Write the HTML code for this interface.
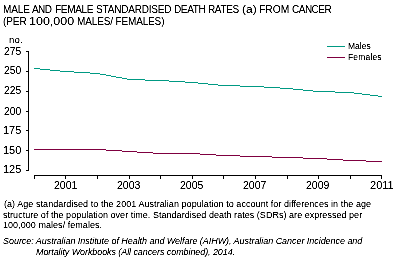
<!DOCTYPE html>
<html><head><meta charset="utf-8">
<style>
html,body{margin:0;padding:0;background:#fff;width:397px;height:265px;overflow:hidden;position:relative}
.t{position:absolute;font-family:"Liberation Sans",sans-serif;white-space:nowrap;color:#000;line-height:1;will-change:transform;-webkit-text-stroke:0.1px #000}
svg{position:absolute;left:0;top:0}
#tx{position:absolute;left:0;top:0;width:397px;height:265px;background:#fff;filter:contrast(2.0)}
</style></head><body><div id="tx">
<div class="t" style="left:3.0px;top:5.0px;font-size:10.0px;letter-spacing:-0.100px">MALE</div>
<div class="t" style="left:32.0px;top:5.0px;font-size:10.0px;letter-spacing:-0.600px">AND</div>
<div class="t" style="left:55.0px;top:5.0px;font-size:10.0px;letter-spacing:-0.300px">FEMALE</div>
<div class="t" style="left:96.0px;top:5.0px;font-size:10.0px;letter-spacing:-0.191px">STANDARDISED</div>
<div class="t" style="left:174.0px;top:5.0px;font-size:10.0px;letter-spacing:-0.350px">DEATH</div>
<div class="t" style="left:208.0px;top:5.0px;font-size:10.0px;letter-spacing:-0.350px">RATES</div>
<div class="t" style="left:242.0px;top:5.0px;font-size:10.0px;transform:scaleX(1.2000);transform-origin:0 0">(a)</div>
<div class="t" style="left:259.0px;top:5.0px;font-size:10.0px;transform:scaleX(1.0267);transform-origin:0 0">FROM</div>
<div class="t" style="left:292.0px;top:5.0px;font-size:10.0px;letter-spacing:-0.500px">CANCER</div>
<div class="t" style="left:3.0px;top:17.0px;font-size:10.0px;letter-spacing:-0.074px">(PER</div>
<div class="t" style="left:29.0px;top:17.0px;font-size:10.0px;transform:scaleX(1.2493);transform-origin:0 0">100,000</div>
<div class="t" style="left:77.0px;top:17.0px;font-size:10.0px;letter-spacing:-0.143px">MALES/ FEMALES)</div>
<div class="t" style="left:9.0px;top:34.5px;font-size:9.5px;letter-spacing:0.300px">no.</div>
<div class="t" style="left:4.0px;top:47.0px;font-size:10.0px;transform:scaleX(1.0353);transform-origin:0 0">275</div>
<div class="t" style="left:4.0px;top:66.0px;font-size:10.0px;transform:scaleX(1.0353);transform-origin:0 0">250</div>
<div class="t" style="left:4.0px;top:86.0px;font-size:10.0px;transform:scaleX(1.0353);transform-origin:0 0">225</div>
<div class="t" style="left:4.0px;top:107.0px;font-size:10.0px;transform:scaleX(1.0353);transform-origin:0 0">200</div>
<div class="t" style="left:3.0px;top:126.0px;font-size:10.0px;transform:scaleX(1.1000);transform-origin:0 0">175</div>
<div class="t" style="left:3.0px;top:146.0px;font-size:10.0px;transform:scaleX(1.1000);transform-origin:0 0">150</div>
<div class="t" style="left:3.0px;top:165.0px;font-size:10.0px;transform:scaleX(1.1000);transform-origin:0 0">125</div>
<div class="t" style="left:54.0px;top:181.0px;font-size:10.0px;transform:scaleX(1.0522);transform-origin:0 0">2001</div>
<div class="t" style="left:117.0px;top:181.0px;font-size:10.0px;transform:scaleX(1.0522);transform-origin:0 0">2003</div>
<div class="t" style="left:180.0px;top:181.0px;font-size:10.0px;transform:scaleX(1.0522);transform-origin:0 0">2005</div>
<div class="t" style="left:243.0px;top:181.0px;font-size:10.0px;transform:scaleX(1.0522);transform-origin:0 0">2007</div>
<div class="t" style="left:306.0px;top:181.0px;font-size:10.0px;transform:scaleX(1.0522);transform-origin:0 0">2009</div>
<div class="t" style="left:370.0px;top:181.0px;font-size:10.0px;transform:scaleX(1.1023);transform-origin:0 0">2011</div>
<div class="t" style="left:348.0px;top:42.0px;font-size:8.5px">Males</div>
<div class="t" style="left:348.0px;top:53.0px;font-size:8.5px;letter-spacing:0.167px">Females</div>
<div class="t" style="left:4.0px;top:200.0px;font-size:9.0px;letter-spacing:0.055px">(a) Age standardised to the 2001 Australian population to account for differences in the age</div>
<div class="t" style="left:3.0px;top:211.0px;font-size:9.0px;letter-spacing:0.034px">structure of the population over time. Standardised death rates (SDRs) are expressed per</div>
<div class="t" style="left:3.0px;top:221.0px;font-size:9.0px;letter-spacing:0.045px">100,000 males/ females.</div>
<div class="t" style="left:3.0px;top:237.0px;font-size:9.0px;letter-spacing:-0.045px;font-style:italic">Source: Australian Institute of Health and Welfare (AIHW), Australian Cancer Incidence and</div>
<div class="t" style="left:36.0px;top:248.0px;font-size:9.0px;letter-spacing:-0.083px;font-style:italic">Mortality Workbooks (All cancers combined), 2014.</div>
</div>
<svg width="397" height="265" viewBox="0 0 397 265">
 <g stroke="#000" stroke-width="1" fill="none" shape-rendering="crispEdges">
  <path d="M28.5 51V171"/>
  <path d="M26 51.5H28M26 71.5H28M26 91.5H28M26 111.5H28M26 130.5H28M26 150.5H28M26 170.5H28"/>
  <path d="M34 175.5H382"/>
  <path d="M34.5 175V179M65.5 175V179M97.5 175V179M129.5 175V179M160.5 175V179M192.5 175V179M223.5 175V179M255.5 175V179M287.5 175V179M318.5 175V179M350.5 175V179M381.5 175V179"/>
 </g>
 <g shape-rendering="crispEdges">
  <path fill="#009983" d="M34 68h6v1h-6zM40 69h10v1h-10zM50 70h10v1h-10zM60 71h14v1h-14zM74 72h16v1h-16zM90 73h10v1h-10zM100 74h6v1h-6zM106 75h5v1h-5zM111 76h5v1h-5zM116 77h6v1h-6zM122 78h5v1h-5zM127 79h18v1h-18zM145 80h24v1h-24zM169 81h16v1h-16zM185 82h13v1h-13zM198 83h10v1h-10zM208 84h10v1h-10zM218 85h22v1h-22zM240 86h24v1h-24zM264 87h16v1h-16zM280 88h13v1h-13zM293 89h10v1h-10zM303 90h10v1h-10zM313 91h22v1h-22zM335 92h19v1h-19zM354 93h8v1h-8zM362 94h8v1h-8zM370 95h8v1h-8zM378 96h4v1h-4zM327 46h18v1h-18z"/>
  <path fill="#7f0040" d="M34 149h72v1h-72zM106 150h16v1h-16zM122 151h15v1h-15zM137 152h16v1h-16zM153 153h47v1h-47zM200 154h16v1h-16zM216 155h24v1h-24zM240 156h32v1h-32zM272 157h31v1h-31zM303 158h24v1h-24zM327 159h16v1h-16zM343 160h23v1h-23zM366 161h16v1h-16zM327 57h18v1h-18z"/>
 </g>
</svg>
</body></html>
